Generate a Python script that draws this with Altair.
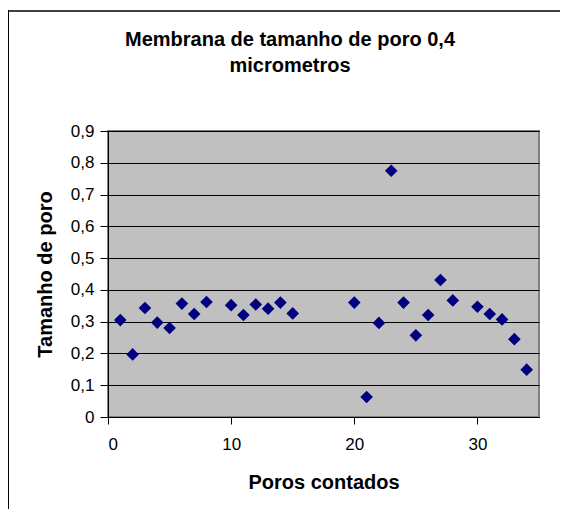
import altair as alt
import pandas as pd

# ---- data ----
poros = [1, 2, 3, 4, 5, 6, 7, 8, 10, 11, 12, 13, 14, 15,
         20, 21, 22, 23, 24, 25, 26, 27, 28, 30, 31, 32, 33, 34]
tamanho = [0.305, 0.197, 0.343, 0.297, 0.280, 0.357, 0.324, 0.362,
           0.352, 0.321, 0.354, 0.341, 0.360, 0.326,
           0.360, 0.063, 0.296, 0.775, 0.360, 0.257, 0.321, 0.431, 0.367,
           0.347, 0.324, 0.307, 0.245, 0.149]
title_lines = ["Membrana de tamanho de poro 0,4", "micrometros"]
x_title = "Poros contados"
y_title = "Tamanho de poro"
x_ticks = [0, 10, 20, 30]
y_ticks = [0, 0.1, 0.2, 0.3, 0.4, 0.5, 0.6, 0.7, 0.8, 0.9]

df = pd.DataFrame({"poros": poros, "tamanho": tamanho})

W, H = 431, 286
FONT = "Liberation Sans"

points = alt.Chart(df).mark_point(
    shape="diamond", filled=True, size=160, color="#000080", opacity=1
).encode(
    x=alt.X("poros:Q",
            scale=alt.Scale(domain=[0, 35], nice=False, zero=True),
            axis=alt.Axis(values=x_ticks, grid=False, title=x_title,
                          format="d", tickSize=7, labelPadding=12,
                          titleBaseline="alphabetic", titleX=W / 2, titleY=71,
                          titleAnchor="middle")),
    y=alt.Y("tamanho:Q",
            scale=alt.Scale(domain=[0, 0.9], nice=False, zero=True),
            axis=alt.Axis(values=y_ticks, grid=True, gridColor="#000000",
                          gridWidth=1, gridOpacity=1, title=y_title,
                          labelExpr="replace(format(datum.value, '.1~f'), '.', ',')",
                          tickSize=8, labelPadding=6,
                          titleBaseline="alphabetic", titleX=-57, titleY=H / 2,
                          titleAngle=-90, titleAnchor="middle")),
)

t1 = alt.Chart(pd.DataFrame({"t": [title_lines[0]]})).mark_text(
    font=FONT, fontSize=20, fontWeight="bold", color="#000000",
    align="center", baseline="alphabetic"
).encode(text="t:N", x=alt.value(182), y=alt.value(46 - 131))

t2 = alt.Chart(pd.DataFrame({"t": [title_lines[1]]})).mark_text(
    font=FONT, fontSize=20, fontWeight="bold", color="#000000",
    align="center", baseline="alphabetic"
).encode(text="t:N", x=alt.value(182), y=alt.value(72 - 131))

frame_top = alt.Chart(pd.DataFrame({"k": [0]})).mark_rule(
    color="#404040", strokeWidth=2
).encode(x=alt.value(-100), x2=alt.value(452), y=alt.value(11 - 131))

frame_left = alt.Chart(pd.DataFrame({"k": [0]})).mark_rule(
    color="#000000", strokeWidth=1
).encode(x=alt.value(-99.5), y=alt.value(10 - 131), y2=alt.value(378))

chart = alt.layer(frame_top, frame_left, points, t1, t2).properties(
    width=W, height=H,
    autosize=alt.AutoSizeParams(type="none"),
    padding={"left": 100, "top": 123, "right": 21, "bottom": 92},
    background="#FFFFFF",
).configure_view(
    fill="#C0C0C0", stroke="#808080", strokeWidth=2
).configure_axis(
    domainColor="#000000", domainWidth=1, tickColor="#000000", tickWidth=1,
    labelColor="#000000", labelFont=FONT, labelFontSize=17,
    titleColor="#000000", titleFont=FONT, titleFontSize=20,
    titleFontWeight="bold",
)

chart.save("out.html", embed_options={"renderer": "svg", "actions": False})
